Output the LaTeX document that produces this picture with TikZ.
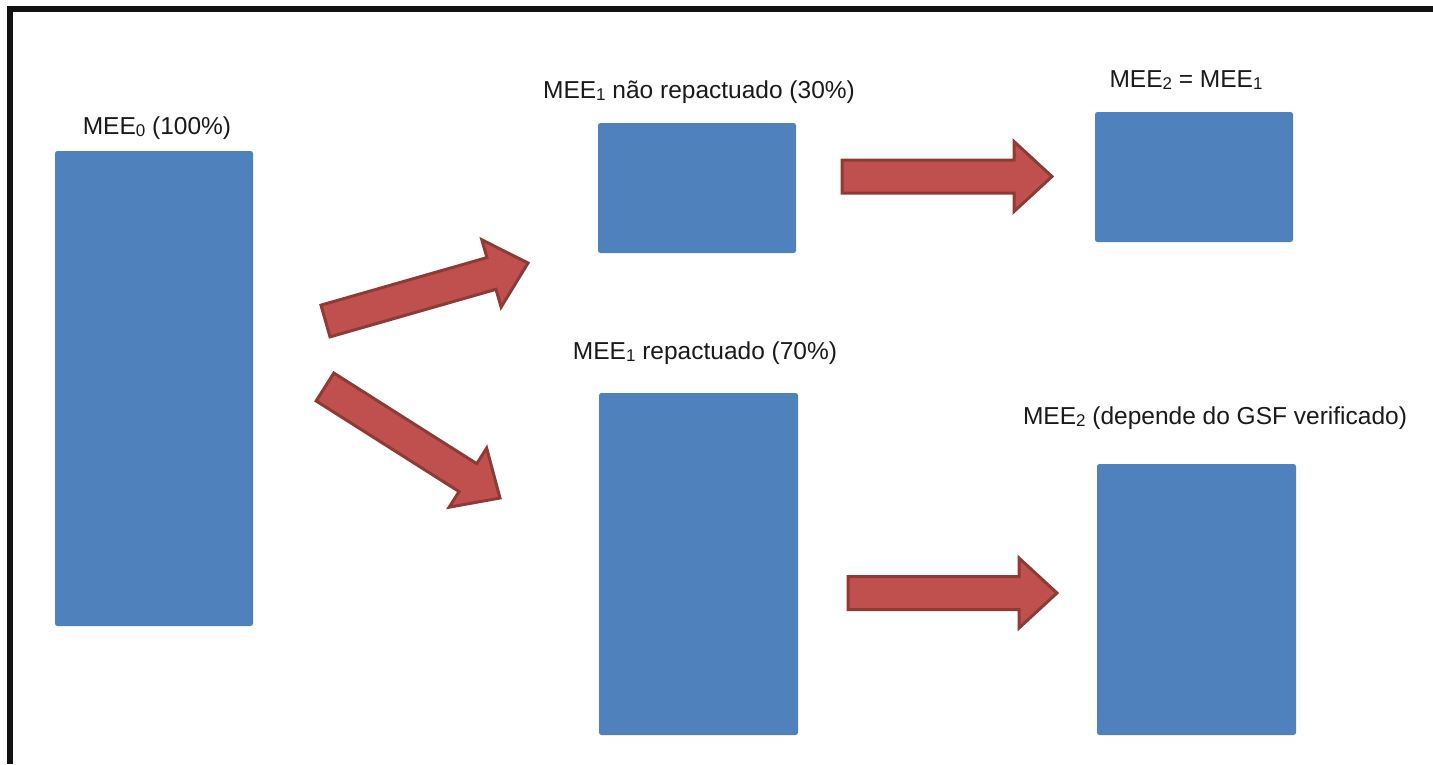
\documentclass[tikz,border=0pt]{standalone}
\usepackage{fontspec}
\setmainfont{Liberation Sans}
\usetikzlibrary{calc}

\definecolor{boxblue}{HTML}{4F81BD}
\definecolor{arrowfill}{HTML}{C0504D}
\definecolor{arrowedge}{HTML}{8E3B38}
\definecolor{labeltext}{HTML}{1A1A1A}

% small lowered index digit, as in MEE_0
\newcommand\idx[1]{\raisebox{-0.15ex}{\fontsize{17}{17}\selectfont #1}}

% thick block arrow from tail coordinate #1 to tip coordinate #2
\newcommand\blockarrow[2]{%
  \coordinate (#1-h) at ($(#2)!38pt!(#1)$);
  \draw[blockarrow]
    ($(#1)!16.5pt!-90:(#2)$) -- ($(#1-h)!16.5pt!-90:(#2)$) --
    ($(#1-h)!35pt!-90:(#2)$) -- (#2) --
    ($(#1-h)!35pt!90:(#2)$) -- ($(#1-h)!16.5pt!90:(#2)$) --
    ($(#1)!16.5pt!90:(#2)$) -- cycle;}

\begin{document}
\begin{tikzpicture}[x=1pt,y=-1pt,
  bar/.style={fill=boxblue, draw=none, rounded corners=2.5pt, inner sep=0pt},
  label/.style={text=labeltext, font=\fontsize{24.5}{28}\selectfont, inner sep=0pt},
  blockarrow/.style={fill=arrowfill, draw=arrowedge, line width=3pt, line join=miter},
  frame/.style={draw=black!93, line width=6pt}]
\useasboundingbox (0,0) rectangle (1433,764);

% open frame: left and top edges
\draw[frame] (10,764) -- (10,9) -- (1433,9);

% quantity bars
\node[bar, minimum width=198pt, minimum height=475pt] (m0) at (154,388.5) {};
\node[bar, minimum width=198pt, minimum height=130pt] (n1) at (697,188) {};
\node[bar, minimum width=198pt, minimum height=130pt] (n2) at (1194,177) {};
\node[bar, minimum width=199pt, minimum height=342pt] (r1) at (698.5,564) {};
\node[bar, minimum width=199pt, minimum height=271pt] (r2) at (1196.5,599.5) {};

% labels
\node[label] (l0) at (157,128) {MEE\idx{0} (100\%)};
\node[label] (l1) at (699,92) {MEE\idx{1} não repactuado (30\%)};
\node[label] (l2) at (1186,80) {MEE\idx{2} = MEE\idx{1}};
\node[label] (l3) at (705,353) {MEE\idx{1} repactuado (70\%)};
\node[label] (l4) at (1215,418) {MEE\idx{2} (depende do GSF verificado)};

% arrow ends
\coordinate (a1) at (325.5,321);  \coordinate (b1) at (528,263);
\coordinate (a2) at (325,387);    \coordinate (b2) at (500,498);
\coordinate (a3) at (842,176.5);  \coordinate (b3) at (1052,176.5);
\coordinate (a4) at (848,593);    \coordinate (b4) at (1057,593);

\blockarrow{a1}{b1}
\blockarrow{a2}{b2}
\blockarrow{a3}{b3}
\blockarrow{a4}{b4}
\end{tikzpicture}
\end{document}
